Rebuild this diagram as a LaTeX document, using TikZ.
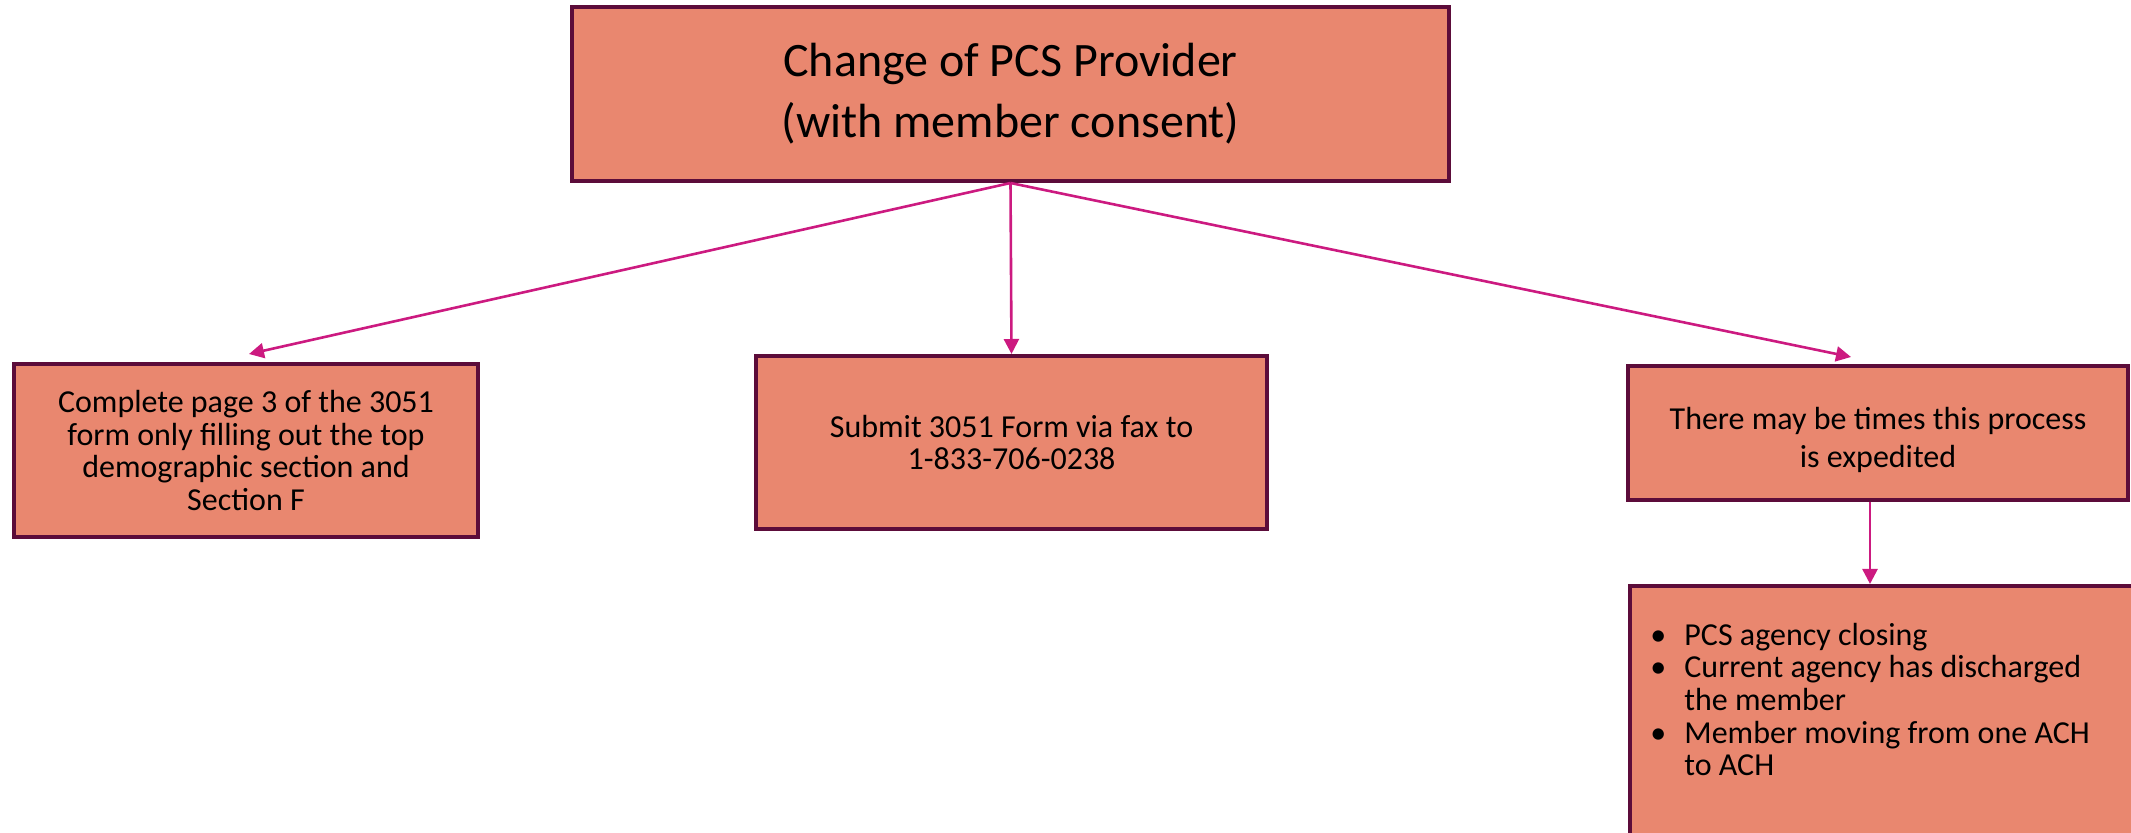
\documentclass[tikz,border=0pt]{standalone}
\usepackage{fontspec}
\setmainfont{Carlito}
\usetikzlibrary{arrows.meta}
\definecolor{boxfill}{RGB}{233,135,111}
\definecolor{boxline}{RGB}{92,12,58}
\definecolor{arrowpink}{RGB}{204,26,128}
\begin{document}
\begin{tikzpicture}[x=0.5pt, y=-0.5pt,
  stepbox/.style={draw=boxline, line width=2pt, fill=boxfill, align=center, inner sep=0pt},
  flow/.style={draw=arrowpink, line width=1.3pt, -{Triangle[length=7.5pt, width=7.5pt]}},
  small/.style={font=\fontsize{16}{16.3}\selectfont}]
\useasboundingbox (0,0) rectangle (2131,833);
\clip (0,0) rectangle (2131,833);

\node (change) [stepbox, minimum width=438.5pt, minimum height=87pt, font=\fontsize{24}{30.5}\selectfont] at (1010.5,94) {Change of PCS Provider\\(with member consent)};

\node (complete) [stepbox, small, minimum width=232pt, minimum height=86.5pt] at (246,450.5) {Complete page 3 of the 3051\\form only filling out the top\\demographic section and\\Section F};
\node (submit) [stepbox, small, minimum width=255.5pt, minimum height=86.5pt] at (1011.5,442.5) {Submit 3051 Form via fax to\\1-833-706-0238};
\node (expedite) [stepbox, font=\fontsize{16}{19}\selectfont, minimum width=250pt, minimum height=67pt] at (1878,433) {\rule{0pt}{18pt}There may be times this process\\is expedited};
\node (reasons) [stepbox, anchor=north west, minimum width=260pt, minimum height=140pt] at (1628,584) {};
\node (reasonlist) [small, anchor=north west, inner sep=0pt, align=left] at (1650,622) {%
\begin{tabular}{@{}p{17pt}@{}l@{}}
\textbullet & PCS agency closing\\
\textbullet & Current agency has discharged\\
 & the member\\
\textbullet & Member moving from one ACH\\
 & to ACH
\end{tabular}};

\coordinate (intocomplete) at (249,354);
\coordinate (intoexpedite) at (1851,357);

\draw [flow] (change.south) -- (intocomplete);
\draw [flow] (change.south) -- (submit.north);
\draw [flow] (change.south) -- (intoexpedite);
\draw [flow] (expedite.south -| 1870,0) -- (reasons.north -| 1870,0);
\end{tikzpicture}
\end{document}
